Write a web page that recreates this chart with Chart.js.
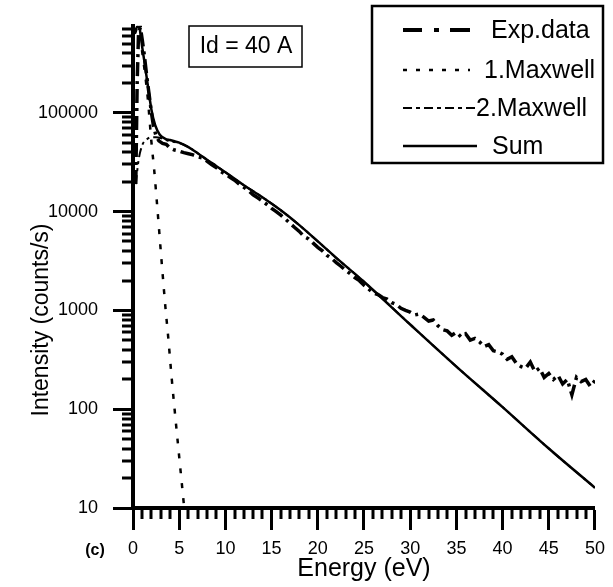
<!DOCTYPE html>
<html><head><meta charset="utf-8">
<script src="https://cdn.jsdelivr.net/npm/chart.js@4/dist/chart.umd.min.js"></script>
<style>html,body{margin:0;padding:0;background:#fff}</style>
</head><body>
<canvas id="c" width="613" height="587"></canvas>
<script>
// ---- data ----
const energyExp = [0.3,0.45,0.6,0.8,1.0,1.2,1.5,1.8,2.0,2.2,2.5,2.8,3.2,3.6,4.0,4.5,5.0,5.5,6.0,6.5,7.0,7.5,8.0,8.5,9.0,9.5,10,10.5,11,11.5,12,12.5,13,13.5,14,14.5,15,15.5,16,16.5,17,17.5,18,18.5,19,19.5,20,20.5,21,21.5,22,22.5,23,23.5,24,24.5,25,25.5,26,26.5,27,27.5,28,28.5,29,29.5,30,30.5,31,31.5,32,32.5,33,33.5,34,34.5,35,35.5,36,36.5,37,37.5,38,38.5,39,39.5,40,40.5,41,41.5,42,42.5,43,43.5,44,44.5,45,45.5,46,46.5,47,47.5,48,48.5,49,49.5,50];
const intensityExp = [19000,200000,650000,730000,550000,400000,230000,140000,100000,75000,58000,52000,49000,48000,44000,42000,41000,39500,38500,37500,36000,35000,32500,30000,28000,25500,24000,22300,20800,19000,17600,16300,14800,13800,12800,11800,10800,10000,9200,8400,7600,6900,6300,5600,5300,4800,4350,4000,3600,3350,3050,2800,2550,2350,2150,2000,1800,1650,1500,1450,1350,1300,1200,1150,1050,1000,960,900,920,850,780,800,700,640,620,560,600,540,580,500,520,480,430,450,390,380,360,320,340,290,270,260,300,240,260,210,230,200,220,180,200,140,210,190,200,170,195];

const energyFit = [0.2,0.5,0.7,1.0,1.3,1.6,2.0,2.4,2.9,3.5,4.0,4.5,5,6,7,8,9,10,12,14,16,18,20,22,25,30,35,40,45,50];
const sumFit    = [650000,750000,720000,460000,300000,190000,107000,75000,60000,54500,53000,51500,50000,45000,39000,33500,29000,25000,18500,14000,10300,7300,5000,3400,1950,720,270,105,40,16];

const energyM1  = [0.2,0.5,0.7,1.0,1.3,1.6,2.0,2.3,2.6,3.1,3.5,3.8,4.2,4.5,5.0,5.5];
const maxwell1  = [630000,725000,690000,410000,250000,140000,50000,26000,12000,3100,1100,550,200,100,33,11];

const energyM2  = [0.3,0.6,1.0,1.5,2.0,2.5,3.0,3.5,4.0,5,6,7,8,9,10,12,14,16,18,20,22,25,30,35,40,45,50];
const maxwell2  = [19000,33000,47000,54000,56500,56500,55500,53500,51500,49500,45000,39000,33500,29000,25000,18500,14000,10300,7300,5000,3400,1950,720,270,105,40,16];

const xTickValues = [0,5,10,15,20,25,30,35,40,45,50];
const yTickValues = [10,100,1000,10000,100000];
const seriesNames = ['Exp.data','1.Maxwell','2.Maxwell','Sum'];

const FONT = '"Liberation Sans", Arial, sans-serif';
const pts = (xs, ys) => xs.map((x,i)=>({x, y: ys[i]}));

const decor = {
  id: 'decor',
  afterDraw(chart) {
    const ctx = chart.ctx, xs = chart.scales.x, ys = chart.scales.y, a = chart.chartArea;
    ctx.save();
    ctx.strokeStyle = '#000'; ctx.fillStyle = '#000';
    // minor ticks x
    ctx.lineWidth = 3;
    for (let e = xs.min; e <= xs.max; e++) {
      if (e % 5 === 0) continue;
      const px = Math.round(xs.getPixelForValue(e));
      ctx.beginPath(); ctx.moveTo(px, a.bottom); ctx.lineTo(px, a.bottom + 11); ctx.stroke();
    }
    // minor ticks y
    for (let d = 10; d <= ys.max; d *= 10) {
      for (let m = 2; m <= 9; m++) {
        const v = m * d;
        if (v > ys.max) break;
        const py = Math.round(ys.getPixelForValue(v));
        ctx.beginPath(); ctx.moveTo(a.left - 11, py); ctx.lineTo(a.left, py); ctx.stroke();
      }
    }
    // y title
    ctx.save();
    ctx.translate(42, 320); ctx.rotate(-Math.PI/2);
    ctx.font = '23px ' + FONT; ctx.textAlign = 'center'; ctx.textBaseline = 'middle';
    ctx.fillText('Intensity (counts/s)', 0, 0);
    ctx.restore();
    // (c)
    ctx.font = 'bold 16px ' + FONT; ctx.textAlign = 'center'; ctx.textBaseline = 'middle';
    ctx.fillText('(c)', 95, 551);
    // Id box
    ctx.lineWidth = 1.5;
    ctx.strokeRect(189, 26, 113, 41);
    ctx.font = '23px ' + FONT;
    ctx.fillText('Id = 40 A', 246, 47);
    // legend box
    ctx.lineWidth = 2.5;
    ctx.strokeRect(372, 6, 231, 157);
    const rows = [30, 70, 108, 146];
    const ds = chart.data.datasets;
    const samples = [
      {x0:403, x1:470, dash:[19,12,5,11,20], w:4},
      {x0:403, x1:470, dash:[4,9], w:2.5},
      {x0:403, x1:477, dash:[9,4,4,4], w:2},
      {x0:403, x1:477, dash:[], w:2.5}
    ];
    const textX = [491, 484, 476, 492];
    ctx.textAlign = 'left'; ctx.font = '25px ' + FONT;
    for (let i = 0; i < 4; i++) {
      const s = samples[i];
      ctx.lineWidth = s.w; ctx.setLineDash(s.dash);
      ctx.beginPath(); ctx.moveTo(s.x0, rows[i]); ctx.lineTo(s.x1, rows[i]); ctx.stroke();
      ctx.setLineDash([]);
      ctx.fillText(ds[i].label, textX[i], rows[i] + 1);
    }
    ctx.restore();
  }
};

new Chart(document.getElementById('c'), {
  type: 'line',
  data: {
    datasets: [
      {label: seriesNames[0], data: pts(energyExp, intensityExp), borderColor:'#000', borderWidth:3.5, borderDash:[14,5,3,5], pointRadius:0, tension:0, order:3},
      {label: seriesNames[1], data: pts(energyM1, maxwell1), borderColor:'#000', borderWidth:2.5, borderDash:[5,10], pointRadius:0, cubicInterpolationMode:'monotone', order:2},
      {label: seriesNames[2], data: pts(energyM2, maxwell2), borderColor:'#000', borderWidth:2, borderDash:[9,4,3,4,3,4], pointRadius:0, cubicInterpolationMode:'monotone', order:1},
      {label: seriesNames[3], data: pts(energyFit, sumFit), borderColor:'#000', borderWidth:2.5, pointRadius:0, cubicInterpolationMode:'monotone', order:0}
    ]
  },
  options: {
    responsive: false, animation: false, devicePixelRatio: 1,
    layout: {padding: {top: 12, right: 15, left: 0, bottom: 0}},
    plugins: {legend: {display: false}, tooltip: {enabled: false}},
    scales: {
      x: {
        type: 'linear', min: 0, max: 50,
        afterFit(s) { s.height = 79; },
        afterBuildTicks(s) { s.ticks = xTickValues.map(v => ({value: v})); },
        ticks: {color:'#000', font:{family: FONT, size: 18}, padding: 8, maxRotation: 0, autoSkip: false, callback: v => String(v)},
        grid: {drawOnChartArea: false, drawTicks: true, tickLength: 22, tickWidth: 3, tickColor: '#000'},
        border: {display: true, width: 4, color: '#000'},
        title: {display: true, text: 'Energy (eV)', color: '#000', font: {family: FONT, size: 25}, padding: {top: 0, bottom: 3}}
      },
      y: {
        type: 'logarithmic', min: 10, max: 760000,
        afterFit(s) { s.width = 133; },
        afterBuildTicks(s) { s.ticks = yTickValues.map(v => ({value: v})); },
        ticks: {color:'#000', font:{family: FONT, size: 18}, padding: 15, autoSkip: false, callback: v => String(v)},
        grid: {drawOnChartArea: false, drawTicks: true, tickLength: 20, tickWidth: 3, tickColor: '#000'},
        border: {display: true, width: 4, color: '#000'}
      }
    }
  },
  plugins: [decor]
});
</script>
</body></html>
